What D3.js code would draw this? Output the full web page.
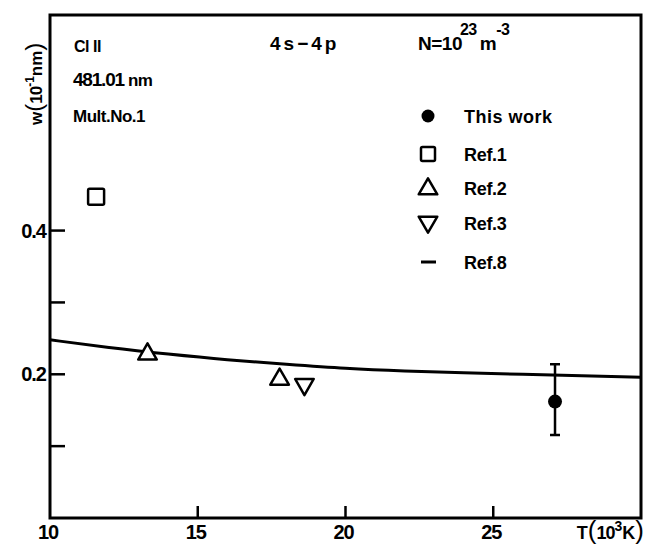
<html>
<head>
<script src="https://d3js.org/d3.v7.min.js"></script>
<style>
  body { margin: 0; background: #fff; }
  text { font-family: "Liberation Sans", Arial, sans-serif; fill: #000; }
</style>
</head>
<body>
<svg id="chart" width="646" height="544"></svg>
<script>
// data
const xTicks = [10, 15, 20, 25];
const xLabels = ['10', '15', '20', '25'];
const yTicks = [0.1, 0.2, 0.3, 0.4];
const yLabels = {0.2: '0.2', 0.4: '0.4'};

const thisWork = [{T: 27.09, w: 0.162, lo: 0.1155, hi: 0.214}];
const ref1 = [{T: 11.56, w: 0.447}];
const ref2 = [{T: 13.30, w: 0.228}, {T: 17.77, w: 0.193}];
const ref3 = [{T: 18.61, w: 0.186}];
const ref8T = [10, 12, 14, 16, 18, 20, 22, 24, 26, 28, 30];
const ref8W = [0.248, 0.237, 0.228, 0.220, 0.214, 0.208, 0.2045, 0.202, 0.200, 0.198, 0.196];

const legendNames = ['This work', 'Ref.1', 'Ref.2', 'Ref.3', 'Ref.8'];

const svg = d3.select('svg#chart');
const x = d3.scaleLinear().domain([10, 30]).range([50, 641]);
const y = d3.scaleLinear().domain([0, 0.7]).range([518, 15]);

// frame
svg.append('rect')
   .attr('x', x(10)).attr('y', y(0.7))
   .attr('width', x(30) - x(10)).attr('height', y(0) - y(0.7))
   .attr('fill', 'none').attr('stroke', '#000').attr('stroke-width', 3);

// inward ticks
svg.selectAll('line.yt').data(yTicks).join('line')
   .attr('class', 'yt')
   .attr('x1', x(10)).attr('x2', x(10) + 15)
   .attr('y1', d => y(d)).attr('y2', d => y(d))
   .attr('stroke', '#000').attr('stroke-width', 2.5);
svg.selectAll('line.xt').data(xTicks.slice(1)).join('line')
   .attr('class', 'xt')
   .attr('x1', d => x(d)).attr('x2', d => x(d))
   .attr('y1', y(0)).attr('y2', y(0) - 12)
   .attr('stroke', '#000').attr('stroke-width', 2.5);

svg.selectAll('text.xl').data(xTicks).join('text')
   .attr('class', 'xl')
   .attr('x', d => x(d) - 2).attr('y', 539)
   .attr('text-anchor', 'middle')
   .attr('font-size', 20).attr('font-weight', 'bold').attr('letter-spacing', -1)
   .text((d, i) => xLabels[i]);
svg.selectAll('text.yl').data(yTicks.filter(d => yLabels[d])).join('text')
   .attr('class', 'yl')
   .attr('x', 46).attr('y', d => y(d) + 7)
   .attr('text-anchor', 'end')
   .attr('font-size', 20).attr('font-weight', 'bold').attr('letter-spacing', -1)
   .text(d => yLabels[d]);

// axis titles
const xt = svg.append('text').attr('x', 644).attr('y', 539)
   .attr('text-anchor', 'end').attr('font-weight', 'bold').attr('font-size', 18);
xt.append('tspan').text('T');
xt.append('tspan').attr('font-size', 26).attr('font-weight', 'normal').text('(');
xt.append('tspan').attr('letter-spacing', -1).text('10');
xt.append('tspan').attr('dy', -8).attr('font-size', 14).text('3');
xt.append('tspan').attr('dy', 8).text('K');
xt.append('tspan').attr('font-size', 26).attr('font-weight', 'normal').text(')');

const yt = svg.append('text').attr('transform', 'translate(42,125) rotate(-90)')
   .attr('font-weight', 'bold').attr('font-size', 17);
yt.append('tspan').text('w');
yt.append('tspan').attr('font-size', 24).attr('font-weight', 'normal').text('(');
yt.append('tspan').attr('letter-spacing', -1).text('10');
yt.append('tspan').attr('dy', -8).attr('font-size', 12).text('-1');
yt.append('tspan').attr('dy', 8).text('nm');
yt.append('tspan').attr('font-size', 24).attr('font-weight', 'normal').text(')');

// annotations
const note = (tx, ty, str, size, weight, ls) => svg.append('text')
   .attr('x', tx).attr('y', ty).attr('font-size', size)
   .attr('font-weight', weight).attr('letter-spacing', ls).text(str);
note(74, 52, 'Cl II', 16, 'bold', -0.5);
note(73, 86, '481.01', 19, 'bold', -1.2).append('tspan').attr('font-size', 17).attr('dx', 4).attr('letter-spacing', -0.5).text('nm');
note(73, 122, 'Mult.No.1', 17, 'bold', -0.5);
note(270, 50, '4s−4p', 19, 'bold', 3);
const nt = note(418, 50, 'N=10', 19, 'bold', -0.5);
nt.append('tspan').attr('dy', -15).attr('dx', -2).attr('font-size', 16).text('23');
nt.append('tspan').attr('dy', 15).attr('dx', 3).text('m');
nt.append('tspan').attr('dy', -15).attr('dx', 0).attr('font-size', 16).text('-3');

// Ref.8 curve
const curve = d3.line().x(d => x(d[0])).y(d => y(d[1])).curve(d3.curveBasis);
svg.append('path')
   .datum(ref8T.map((t, i) => [t, ref8W[i]]))
   .attr('d', curve)
   .attr('fill', 'none').attr('stroke', '#000').attr('stroke-width', 3);

// markers
const triUp = d3.symbol().type(d3.symbolTriangle).size(150);
svg.selectAll('rect.r1').data(ref1).join('rect')
   .attr('class', 'r1')
   .attr('x', d => x(d.T) - 8).attr('y', d => y(d.w) - 8)
   .attr('width', 16).attr('height', 16).attr('rx', 1.5)
   .attr('fill', '#fff').attr('stroke', '#000').attr('stroke-width', 2.5);
svg.selectAll('path.r2').data(ref2).join('path')
   .attr('class', 'r2')
   .attr('d', triUp)
   .attr('transform', d => `translate(${x(d.T)},${y(d.w)})`)
   .attr('fill', '#fff').attr('stroke', '#000').attr('stroke-width', 2.5).attr('stroke-linejoin', 'round');
svg.selectAll('path.r3').data(ref3).join('path')
   .attr('class', 'r3')
   .attr('d', triUp)
   .attr('transform', d => `translate(${x(d.T)},${y(d.w)}) rotate(180)`)
   .attr('fill', '#fff').attr('stroke', '#000').attr('stroke-width', 2.5).attr('stroke-linejoin', 'round');

// this work with error bar
const tw = svg.selectAll('g.tw').data(thisWork).join('g').attr('class', 'tw');
tw.append('line')
   .attr('x1', d => x(d.T)).attr('x2', d => x(d.T))
   .attr('y1', d => y(d.lo)).attr('y2', d => y(d.hi))
   .attr('stroke', '#000').attr('stroke-width', 2.5);
tw.selectAll('line.cap').data(d => [[d.T, d.lo], [d.T, d.hi]]).join('line')
   .attr('class', 'cap')
   .attr('x1', d => x(d[0]) - 5).attr('x2', d => x(d[0]) + 5)
   .attr('y1', d => y(d[1])).attr('y2', d => y(d[1]))
   .attr('stroke', '#000').attr('stroke-width', 2.5);
tw.append('circle')
   .attr('cx', d => x(d.T)).attr('cy', d => y(d.w)).attr('r', 7).attr('fill', '#000');

// legend
const legY = [116, 154, 188, 223, 262];
const lg = svg.append('g');
lg.selectAll('text').data(legendNames).join('text')
   .attr('x', 464).attr('y', (d, i) => legY[i] + 7)
   .attr('font-size', 18).attr('font-weight', 'bold').attr('letter-spacing', (d, i) => i === 0 ? 0.5 : -0.3)
   .text(d => d);
lg.append('circle').attr('cx', 428).attr('cy', legY[0]).attr('r', 6.5).attr('fill', '#000');
lg.append('rect').attr('x', 421).attr('y', legY[1] - 7).attr('width', 14).attr('height', 14).attr('rx', 1.5)
   .attr('fill', '#fff').attr('stroke', '#000').attr('stroke-width', 2.5);
lg.append('path').attr('d', triUp).attr('transform', `translate(428,${legY[2] + 1})`)
   .attr('fill', '#fff').attr('stroke', '#000').attr('stroke-width', 2.5).attr('stroke-linejoin', 'round');
lg.append('path').attr('d', triUp).attr('transform', `translate(428,${legY[3] - 1}) rotate(180)`)
   .attr('fill', '#fff').attr('stroke', '#000').attr('stroke-width', 2.5).attr('stroke-linejoin', 'round');
lg.append('line').attr('x1', 421).attr('x2', 436).attr('y1', legY[4]).attr('y2', legY[4])
   .attr('stroke', '#000').attr('stroke-width', 3);
</script>
</body>
</html>
